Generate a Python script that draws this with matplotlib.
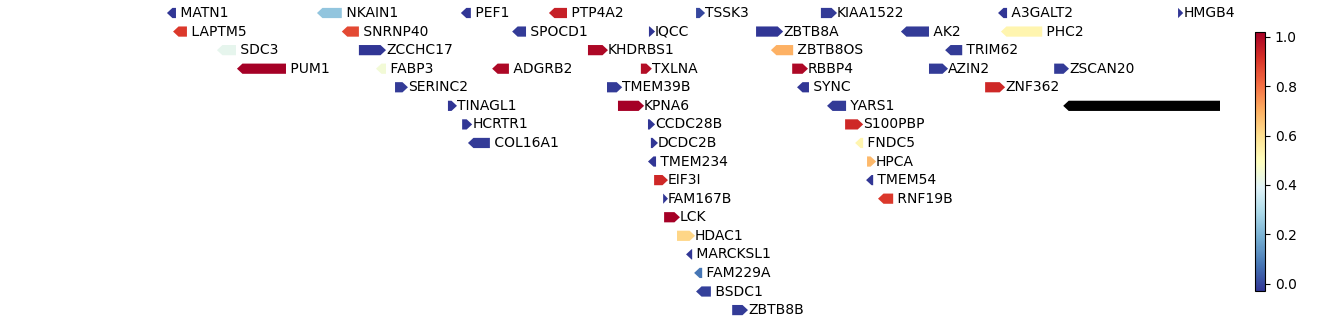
import numpy as np
import matplotlib
matplotlib.use("Agg")
import matplotlib.pyplot as plt
from matplotlib.patches import Polygon
from matplotlib.colors import Normalize
from matplotlib.cm import ScalarMappable

# genes in genomic order (kb on chr1), strand, lane and score
genes = ["MATN1", "LAPTM5", "SDC3", "PUM1", "NKAIN1", "SNRNP40", "ZCCHC17", "FABP3",
         "SERINC2", "TINAGL1", "PEF1", "HCRTR1", "COL16A1", "ADGRB2", "SPOCD1", "PTP4A2",
         "KHDRBS1", "TMEM39B", "KPNA6", "TXLNA", "CCDC28B", "TMEM234", "IQCC", "DCDC2B",
         "EIF3I", "FAM167B", "LCK", "HDAC1", "MARCKSL1", "FAM229A", "TSSK3", "BSDC1",
         "ZBTB8B", "ZBTB8A", "ZBTB8OS", "RBBP4", "SYNC", "KIAA1522", "YARS1", "S100PBP",
         "FNDC5", "TMEM54", "HPCA", "RNF19B", "AK2", "AZIN2", "TRIM62", "ZNF362",
         "A3GALT2", "PHC2", "ZSCAN20", "", "HMGB4"]
starts = [30700, 30719, 30855, 30917, 31165, 31242, 31295, 31348,
          31407, 31571, 31611, 31615, 31633, 31708, 31770, 31884,
          32005, 32064, 32098, 32169, 32191, 32191, 32194, 32200,
          32210, 32238, 32241, 32281, 32309, 32334, 32340, 32340,
          32452, 32526, 32572, 32638, 32653, 32727, 32746, 32802,
          32833, 32867, 32870, 32904, 32975, 33062, 33112, 33236,
          33276, 33285, 33450, 33478, 33834]
ends = [30728, 30762, 30914, 31069, 31242, 31295, 31379, 31379,
        31447, 31599, 31642, 31646, 31701, 31760, 31813, 31940,
        32067, 32111, 32179, 32203, 32213, 32216, 32213, 32222,
        32253, 32253, 32290, 32337, 32328, 32359, 32368, 32386,
        32501, 32610, 32641, 32687, 32690, 32777, 32805, 32858,
        32858, 32889, 32898, 32951, 33062, 33121, 33165, 33298,
        33304, 33413, 33496, 34160, 33850]
strands = ["-", "-", "-", "-", "-", "-", "+", "-",
           "+", "+", "-", "+", "-", "-", "-", "-",
           "+", "+", "+", "+", "+", "-", "+", "+",
           "+", "+", "+", "+", "-", "-", "+", "-",
           "+", "+", "-", "+", "-", "+", "-", "+",
           "-", "-", "+", "-", "-", "+", "-", "+",
           "-", "-", "+", "-", "+"]
lanes = [0, 1, 2, 3, 0, 1, 2, 3,
         4, 5, 0, 6, 7, 3, 1, 0,
         2, 4, 5, 3, 6, 8, 1, 7,
         9, 10, 11, 12, 13, 14, 0, 15,
         16, 1, 2, 3, 4, 0, 5, 6,
         7, 9, 8, 10, 1, 3, 2, 4,
         0, 1, 3, 5, 0]
scores = [-0.03, 0.9, 0.41, 1.02, 0.24, 0.87, -0.03, 0.45,
          -0.02, -0.03, -0.03, -0.03, -0.02, 1.0, -0.02, 0.95,
          1.0, -0.02, 1.02, 0.99, -0.03, -0.03, -0.03, -0.03,
          0.93, -0.03, 1.02, 0.62, -0.03, 0.08, 0.0, -0.01,
          -0.02, -0.03, 0.7, 1.0, -0.03, -0.02, -0.02, 0.93,
          0.53, -0.03, 0.68, 0.9, -0.02, -0.02, -0.02, 0.93,
          -0.03, 0.53, -0.02, np.nan, -0.03]

cmap = plt.get_cmap("RdYlBu_r")
norm = Normalize(vmin=-0.03, vmax=1.02)

fig = plt.figure(figsize=(13.38, 3.24), dpi=100)
ax = fig.add_axes([165 / 1338, 0, 1055 / 1338, 1])

height = 0.55
head = 17

for name, s, e, st, lane, sc in zip(genes, starts, ends, strands, lanes, scores):
    hl = min(head, e - s)
    y0, y1 = lane - height / 2, lane + height / 2
    if st == "+":
        pts = [(s, y0), (e - hl, y0), (e, lane), (e - hl, y1), (s, y1)]
        label = name
    else:
        pts = [(e, y0), (s + hl, y0), (s, lane), (s + hl, y1), (e, y1)]
        label = " " + name
    color = "black" if np.isnan(sc) else cmap(norm(sc))
    ax.add_patch(Polygon(pts, closed=True, facecolor=color, edgecolor="none"))
    if name:
        ax.text(e, lane, label, ha="left", va="center", fontsize=10, clip_on=False)

ax.set_xlim(30694, 33964)
ax.set_ylim(16.75, -0.70)
ax.axis("off")

cax = fig.add_axes([1255 / 1338, 33 / 324, 10 / 1338, 259 / 324])
cb = fig.colorbar(ScalarMappable(norm=norm, cmap=cmap), cax=cax)
cb.set_ticks([0.0, 0.2, 0.4, 0.6, 0.8, 1.0])
cb.ax.tick_params(labelsize=10)

fig.savefig("out.png", dpi=100)
